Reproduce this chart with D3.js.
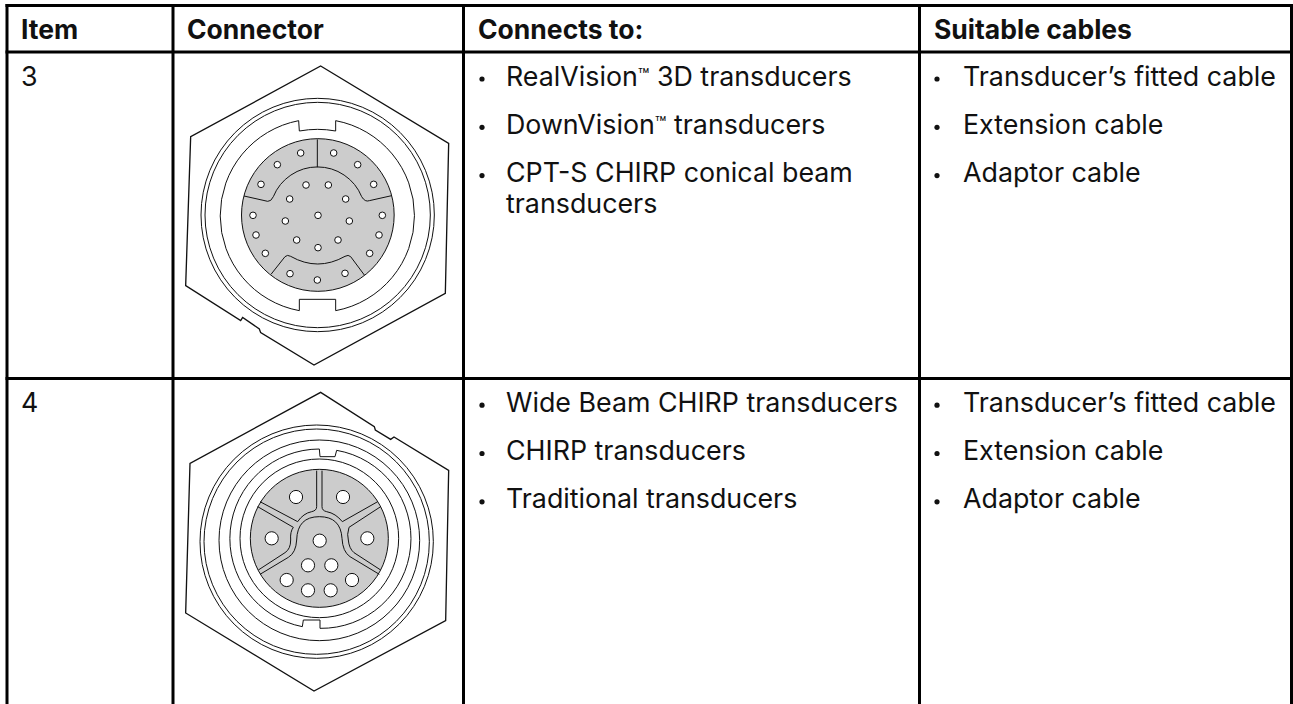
<!DOCTYPE html>
<html>
<head>
<meta charset="utf-8">
<script src="https://cdn.jsdelivr.net/npm/d3@7"></script>
<style>
body { margin: 0; background: #fff; }
svg { display: block; }
text { font-family: Inter, sans-serif; fill: #111; }
</style>
</head>
<body>
<svg id="chart" width="1293" height="704"></svg>
<script>
const headers = ["Item", "Connector", "Connects to:", "Suitable cables"];
const items = ["3", "4"];
const connects = [
    [["RealVision™ 3D transducers"], ["DownVision™ transducers"], ["CPT-S CHIRP conical beam", "transducers"]],
    [["Wide Beam CHIRP transducers"], ["CHIRP transducers"], ["Traditional transducers"]]
];
const cables = ["Transducer’s fitted cable", "Extension cable", "Adaptor cable"];

// connector outlines, in units of a 3x crop of each cell
const hex1 = "M452,33 L836,265 L826,715 L432,930 L272,833 L268,822 L218,787 L212,797 L47,692 L62,245 Z";
const hex2 = "M452,52 L613,155 L616,165 L662,193 L672,186 L836,286 L827,737 L432,948 L47,714 L60,265 Z";
const rings1 = [[443, 480, 350], [443, 480, 338]];
const rings2 = [[440, 500, 350], [440, 500, 338], [448, 496, 301], [448, 490, 238]];
const disc1 = [443.5, 480, 229];
const disc2 = [448, 490, 207];
const keyed1 = "M386,197 A290,290 0 0 0 388,767 L388,733 L497,733 L497,767 A290,290 0 0 0 497,197 L497,228 Q443,218 388,228 Z";
const keyed2 = "M448,222 A269,269 0 0 0 397,755 L400,735 L450,735 L450,760 A269,269 0 0 0 500,226 L495,245 L450,245 Z";
const seams1 = [
    "M442,253 L442,337",
    "M222,423 L293,439 Q303,440 310,425 A143,143 0 0 1 575,425 Q585,442 598,437 L665,422",
    "M303,658 L345,605 Q352,598 362,604 Q443,650 525,604 Q535,598 542,605 L583,660"
];
const seams2 = [
    "M440,287 L440,395 Q440,407 425,410 Q400,415 383,440 L270,380",
    "M456,287 L456,395 Q456,407 470,410 Q497,415 517,440 L623,380",
    "M263,395 L370,457 Q360,470 362,495 Q362,522 345,533 L265,585",
    "M632,395 L537,457 Q530,480 535,495 Q537,520 552,533 L632,585",
    "M270,598 L355,547 Q378,533 380,495 Q382,425 448,425 Q512,425 516,490 Q518,530 540,545 L628,598"
];
const pins1 = [[392,294],[491,294],[322,329],[563,329],[273,388],[611,388],[408,390],[475,390],[359,432],[527,432],
    [249,481],[637,481],[444,481],[346,498],[538,498],[258,540],[627,540],[380,555],[504,555],[444,578],
    [286,595],[599,595],[360,656],[525,655],[442,675]];
const pins2 = [[378,366],[519,366],[305,490],[592,490],[449,497],[414,571],[484,571],[350,615],[546,615],[414,646],[482,646]];

const svg = d3.select("#chart");

// table rules
const colX = [7, 173, 463.5, 919.5, 1291.5];
const rowY = [5.5, 52, 378.5];
svg.selectAll(".rule-v").data(colX).enter().append("line")
    .attr("x1", d => d).attr("x2", d => d).attr("y1", 4).attr("y2", 704)
    .attr("stroke", "#000").attr("stroke-width", 3);
svg.selectAll(".rule-h").data(rowY).enter().append("line")
    .attr("x1", 5.5).attr("x2", 1293).attr("y1", d => d).attr("y2", d => d)
    .attr("stroke", "#000").attr("stroke-width", 3);

// header
const headX = [21, 187, 478, 934];
svg.selectAll(".head").data(headers).enter().append("text")
    .attr("x", (d, i) => headX[i]).attr("y", 38.5)
    .attr("font-size", 26.5).attr("font-weight", 700)
    .text(d => d);

function addLabel(x, y, s) {
    const t = svg.append("text").attr("x", x).attr("y", y).attr("font-size", 26.8);
    let dy = 0;
    s.split(/(™)/).forEach(part => {
        if (part === "™") { t.append("tspan").attr("font-size", 19).attr("dy", -4).text(part); dy = 4; }
        else { t.append("tspan").attr("dy", dy).text(part); dy = 0; }
    });
}
function addBullets(x, textX, y0, list) {
    let y = y0;
    list.forEach(lines => {
        svg.append("circle").attr("cx", x).attr("cy", y - 6.5).attr("r", 2.6).attr("fill", "#111");
        lines.forEach((l, i) => { addLabel(textX, y + i * 31, l); });
        y += 48.3;
    });
}
const rowBase = [85.5, 411.7];
items.forEach((d, i) => {
    addLabel(21, rowBase[i], d);
    addBullets(482, 506, rowBase[i], connects[i]);
    addBullets(937, 963, rowBase[i], cables.map(c => [c]));
});

function drawConnector(y0, h, hex, rings, disc, keyed, seams, pins, pinR) {
    const x = d3.scaleLinear().domain([0, 870]).range([170, 460]);
    const y = d3.scaleLinear().domain([0, h]).range([y0, y0 + h / 3]);
    const g = svg.append("g").attr("transform", "translate(170," + y0 + ") scale(" + (1 / 3) + ")")
        .attr("fill", "none").attr("stroke", "#111").attr("stroke-width", 3);
    g.append("path").attr("d", hex).attr("stroke-width", 4);
    g.selectAll(".ring").data(rings).enter().append("circle")
        .attr("cx", d => d[0]).attr("cy", d => d[1]).attr("r", d => d[2]);
    g.append("path").attr("d", keyed);
    g.append("circle").attr("cx", disc[0]).attr("cy", disc[1]).attr("r", disc[2]).attr("fill", "#cccccc");
    g.selectAll(".seam").data(seams).enter().append("path").attr("d", d => d);
    svg.selectAll(".pin" + y0).data(pins).enter().append("circle")
        .attr("cx", d => x(d[0])).attr("cy", d => y(d[1])).attr("r", pinR)
        .attr("fill", "#fff").attr("stroke", "#111").attr("stroke-width", 1);
}
drawConnector(55, 960, hex1, rings1, disc1, keyed1, seams1, pins1, 3.3);
drawConnector(375, 987, hex2, rings2, disc2, keyed2, seams2, pins2, 6.6);
</script>
</body>
</html>
